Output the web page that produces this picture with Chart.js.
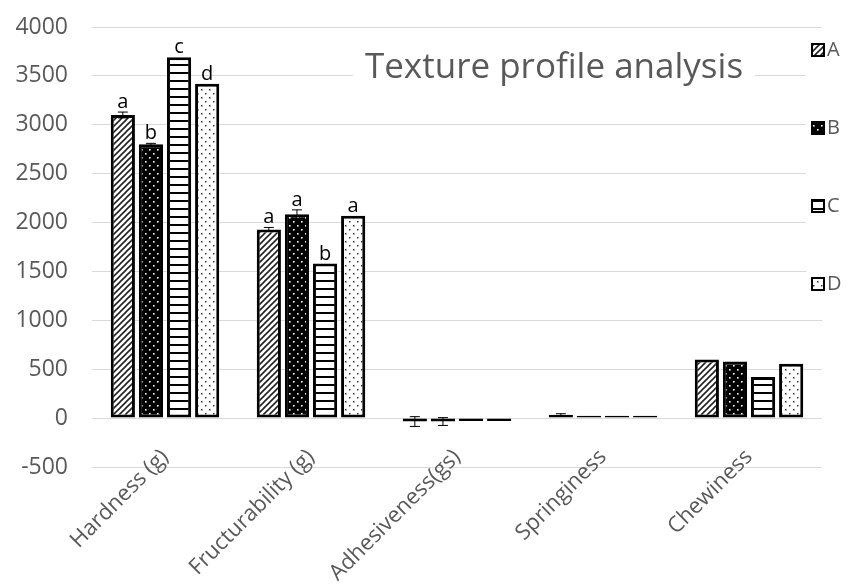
<!DOCTYPE html>
<html>
<head>
<meta charset="utf-8">
<script src="https://cdn.jsdelivr.net/npm/chart.js@4.4.1/dist/chart.umd.min.js"></script>
<style>
html,body{margin:0;padding:0;background:#fff;}
#wrap{width:854px;height:586px;position:relative;}
</style>
</head>
<body>
<div id="wrap"><canvas id="c" width="854" height="586"></canvas></div>
<script>
// ---- data ----
const categories = ["Hardness (g)", "Fructurability (g)", "Adhesiveness(gs)", "Springiness", "Chewiness"];
const seriesNames = ["A", "B", "C", "D"];
const valuesA = [3100, 1930, -35, 35, 600];
const valuesB = [2800, 2085, -35, 25, 580];
const valuesC = [3690, 1580, -30, 25, 420];
const valuesD = [3420, 2070, -30, 25, 555];
const errorsA = [30, 20, 50, 10, 0];
const errorsB = [10, 45, 40, 0, 0];
const errorsC = [0, 0, 0, 0, 0];
const errorsD = [0, 0, 0, 0, 0];
const lettersA = ["a", "a", "", "", ""];
const lettersB = ["b", "a", "", "", ""];
const lettersC = ["c", "b", "", "", ""];
const lettersD = ["d", "a", "", "", ""];
const yTicks = [-500, 0, 500, 1000, 1500, 2000, 2500, 3000, 3500, 4000];
const chartTitle = "Texture profile analysis";

// ---- patterns ----
function tile(size, draw) {
  const c = document.createElement('canvas');
  c.width = size; c.height = size;
  const g = c.getContext('2d');
  draw(g, size);
  return document.createElement('canvas').getContext('2d').createPattern(c, 'repeat');
}
const patA = tile(6, (g, s) => {
  g.fillStyle = '#fff'; g.fillRect(0, 0, s, s);
  g.strokeStyle = '#222'; g.lineWidth = 1.6;
  g.beginPath();
  g.moveTo(-1, s + 1); g.lineTo(s + 1, -1);
  g.moveTo(-1, 1); g.lineTo(1, -1);
  g.moveTo(s - 1, s + 1); g.lineTo(s + 1, s - 1);
  g.stroke();
});
const patB = tile(8, (g, s) => {
  g.fillStyle = '#000'; g.fillRect(0, 0, s, s);
  g.fillStyle = '#fff';
  g.fillRect(1, 1, 1.6, 1.6);
  g.fillRect(5, 5, 1.6, 1.6);
});
const patC = tile(8, (g, s) => {
  g.fillStyle = '#fff'; g.fillRect(0, 0, s, s);
  g.fillStyle = '#000'; g.fillRect(0, 0, s, 2);
});
const patD = tile(8, (g, s) => {
  g.fillStyle = '#fff'; g.fillRect(0, 0, s, s);
  g.fillStyle = '#333';
  g.fillRect(1, 1, 1.5, 1.5);
  g.fillRect(5, 5, 1.5, 1.5);
});

const seriesValues = [valuesA, valuesB, valuesC, valuesD];
const seriesErrors = [errorsA, errorsB, errorsC, errorsD];
const seriesLetters = [lettersA, lettersB, lettersC, lettersD];
const seriesPatterns = [patA, patB, patC, patD];

const FONT = '"Open Sans", Lato, sans-serif';
const GRAY = '#595959';

// ---- plugins ----
const overlayPlugin = {
  id: 'overlay',
  afterDatasetsDraw(chart) {
    const ctx = chart.ctx;
    const y = chart.scales.y;
    ctx.save();
    chart.data.datasets.forEach((ds, di) => {
      const meta = chart.getDatasetMeta(di);
      meta.data.forEach((bar, i) => {
        const v = ds.data[i];
        const e = ds.errors[i];
        if (e > 0) {
          const y1 = y.getPixelForValue(v + e);
          const y2 = y.getPixelForValue(v - e);
          ctx.strokeStyle = '#000';
          ctx.lineWidth = 1;
          ctx.beginPath();
          ctx.moveTo(bar.x, y1); ctx.lineTo(bar.x, y2);
          ctx.moveTo(bar.x - 5, y1); ctx.lineTo(bar.x + 5, y1);
          ctx.moveTo(bar.x - 5, y2); ctx.lineTo(bar.x + 5, y2);
          ctx.stroke();
        }
        const L = ds.letters[i];
        if (L) {
          const top = Math.min(bar.y, y.getPixelForValue(v + e));
          ctx.fillStyle = '#000';
          ctx.font = '20px ' + FONT;
          ctx.textAlign = 'center';
          ctx.textBaseline = 'alphabetic';
          ctx.fillText(L, bar.x, top - 4);
        }
      });
    });
    ctx.restore();
  },
  afterDraw(chart) {
    const ctx = chart.ctx;
    ctx.save();
    // title with white box over the grid
    ctx.font = '35px ' + FONT;
    const tw = ctx.measureText(chartTitle).width;
    const tx = 554, ty = 68;
    ctx.fillStyle = '#fff';
    ctx.fillRect(tx - tw / 2 - 12, ty - 24, tw + 24, 48);
    ctx.fillStyle = GRAY;
    ctx.textAlign = 'center';
    ctx.textBaseline = 'middle';
    ctx.fillText(chartTitle, tx, ty);
    // legend
    ctx.fillStyle = '#fff';
    ctx.fillRect(806, 36, 48, 262);
    const ys = [50, 128, 206, 284];
    chart.data.datasets.forEach((ds, di) => {
      const by = ys[di];
      ctx.fillStyle = ds.backgroundColor;
      ctx.fillRect(812, by - 6, 12, 12);
      ctx.strokeStyle = '#000';
      ctx.lineWidth = 2;
      ctx.strokeRect(812, by - 6, 12, 12);
      ctx.fillStyle = GRAY;
      ctx.font = '20px ' + FONT;
      ctx.textAlign = 'left';
      ctx.textBaseline = 'middle';
      ctx.fillText(ds.label, 827, by);
    });
    ctx.restore();
  }
};

const datasets = seriesNames.map((n, i) => ({
  label: n,
  data: seriesValues[i],
  errors: seriesErrors[i],
  letters: seriesLetters[i],
  backgroundColor: seriesPatterns[i],
  borderColor: '#000',
  borderWidth: 3,
  borderSkipped: false,
  barPercentage: 0.86,
  categoryPercentage: 0.77
}));

new Chart(document.getElementById('c'), {
  type: 'bar',
  data: { labels: categories, datasets: datasets },
  plugins: [overlayPlugin],
  options: {
    responsive: false,
    animation: false,
    devicePixelRatio: 1,
    layout: { padding: { left: 0, right: 32, top: 27, bottom: 119 } },
    plugins: { legend: { display: false }, title: { display: false }, tooltip: { enabled: false } },
    scales: {
      x: {
        position: { y: 0 },
        grid: { display: false },
        border: { display: false },
        afterFit(scale) { scale.paddingLeft = 0; scale.paddingRight = 0; },
        ticks: {
          color: GRAY, font: { size: 22, family: FONT },
          minRotation: 45, maxRotation: 45, autoSkip: false, padding: 18
        }
      },
      y: {
        min: -500, max: 4000,
        afterBuildTicks(scale) { scale.ticks = yTicks.map(v => ({ value: v })); },
        afterFit(scale) { scale.width = 92; scale.paddingTop = 0; scale.paddingBottom = 0; },
        grid: { color: '#d9d9d9', lineWidth: 1, drawTicks: false },
        border: { display: false },
        ticks: { color: GRAY, font: { size: 23, family: FONT }, padding: 24, callback: (v) => String(v) }
      }
    }
  }
});
</script>
</body>
</html>
